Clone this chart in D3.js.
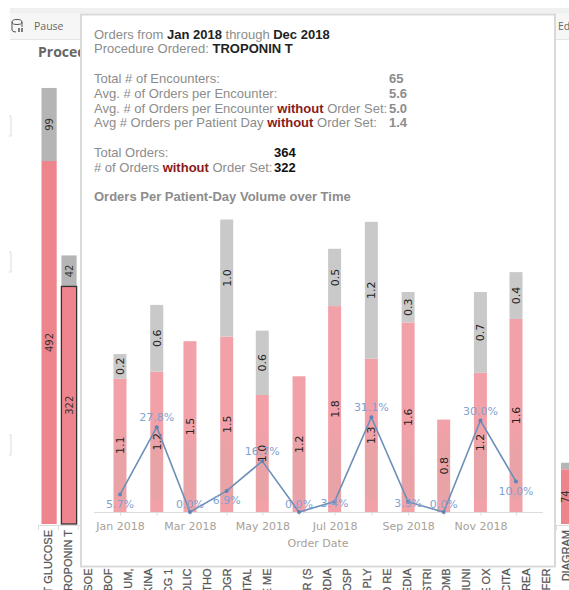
<!DOCTYPE html>
<html><head><meta charset="utf-8">
<script src="https://cdn.jsdelivr.net/npm/d3@7"></script>
<style>html,body{margin:0;padding:0;background:#fff;overflow:hidden}svg{display:block;font-family:"Liberation Sans",Arial,sans-serif}</style>
</head><body><svg id="c" width="569" height="590"></svg>
<script>
const months=["2018-01","2018-02","2018-03","2018-04","2018-05","2018-06","2018-07","2018-08","2018-09","2018-10","2018-11","2018-12"];
const withoutSet=[1.14,1.2,1.46,1.5,1.0,1.16,1.76,1.31,1.62,0.79,1.19,1.65];
const withSet=[0.21,0.57,0,1.0,0.55,0,0.49,1.17,0.26,0,0.69,0.4];
const pct=[5.7,27.8,0,6.9,16.7,0,3.4,31.1,3.3,0,30.0,10.0];
const tickMonths=["2018-01","2018-03","2018-05","2018-07","2018-09","2018-11"];
const procCats=["T GLUCOSE","TROPONIN T","ISOE","IBOF","UM,","KINA","CG 1","OLIC","THO","OGR","ITAL","E ME","","ER (S","RDIA","OSP","PLY","D RE","EDIA","STRI","OMB","IUNI","E OX","SCITA","TREA","FER","DIAGRAM"];
const bgRed={"T GLUCOSE":492,"TROPONIN T":322,"DIAGRAM":74};
const bgGray={"T GLUCOSE":99,"TROPONIN T":42,"DIAGRAM":9};

const svg=d3.select("#c");
const parse=d3.timeParse("%Y-%m");
const x=d3.scaleTime().domain([parse(months[0]),parse(months[11])]).range([120,516]);
const y=d3.scaleLinear().domain([0,2.5]).range([512,219.5]);
const yP=d3.scaleLinear().domain([0,40]).range([512,390]);
const bx=d3.scalePoint().domain(procCats).range([48,566]);
const by=d3.scaleLinear().domain([0,492]).range([524,161]);
const DV="DejaVu Sans";

// page chrome behind the tooltip
svg.append("rect").attr("x",10).attr("y",8).attr("width",559).attr("height",5).attr("fill","#f0f0f0");
svg.append("rect").attr("x",10).attr("y",13).attr("width",559).attr("height",27).attr("fill","#f6f6f6");
svg.append("line").attr("x1",10).attr("x2",569).attr("y1",39.5).attr("y2",39.5).attr("stroke","#e4e4e4");
const ic=svg.append("g").attr("fill","none").attr("stroke","#555").attr("stroke-width",1);
ic.append("path").attr("d","M12 22 a5 2.5 0 0 1 10 0 v5 M12 22 v8 q0 2 4 2 M12 22 a5 2.5 0 0 0 10 0");
ic.append("path").attr("d","M19 28v4M22 28v4").attr("stroke-width",1.5);
svg.append("text").attr("x",34).attr("y",30).attr("font-size",10.5).attr("font-family","Open Sans").attr("fill","#666").text("Pause");
svg.append("text").attr("x",558).attr("y",30).attr("font-size",10.5).attr("font-family","Open Sans").attr("fill","#666").text("Ed");
svg.append("text").attr("x",38).attr("y",57).attr("font-size",14).attr("font-weight","bold").attr("font-family","Open Sans").attr("fill","#666").text("Procedures");

// faint row-axis brackets at the far left
svg.append("g").selectAll("path").data([116,252,435]).join("path").attr("d",d=>`M9,${d}h2v20h-2`).attr("fill","none").attr("stroke","#dcdcdc");

// background procedure bars
const bg=svg.append("g");
const hasBar=procCats.filter(c=>bgRed[c]);
const bw=c=>c==="DIAGRAM"?[561,585]:[bx(c)-6.5,bx(c)+8.7];
bg.selectAll("rect.g").data(hasBar).join("rect")
 .attr("x",c=>bw(c)[0]).attr("width",c=>bw(c)[1]-bw(c)[0])
 .attr("y",c=>by(bgRed[c]+bgGray[c])).attr("height",c=>by(0)-by(bgGray[c])).attr("fill","#b5b5b5");
bg.selectAll("rect.r").data(hasBar).join("rect")
 .attr("x",c=>bw(c)[0]).attr("width",c=>bw(c)[1]-bw(c)[0])
 .attr("y",c=>by(bgRed[c])).attr("height",c=>by(0)-by(bgRed[c])).attr("fill","#ee848c")
 .attr("stroke",c=>c==="TROPONIN T"?"#333":"none").attr("stroke-width",1.3);
const rotTxt=(sel,tx,ty,size,fill,fam)=>sel.attr("transform",d=>`translate(${tx(d)},${ty(d)}) rotate(-90)`).attr("text-anchor","middle").attr("font-size",size).attr("fill",fill).attr("font-family",fam);
bg.selectAll("text.r").data(hasBar).join("text").text(c=>bgRed[c]).call(rotTxt,c=>Math.min(bx(c)+5,568.5),c=>(by(bgRed[c])+by(0))/2,10,"#333",DV);
bg.selectAll("text.g").data(hasBar.filter(c=>c!=="DIAGRAM")).join("text").text(c=>bgGray[c]).call(rotTxt,c=>bx(c)+5,c=>(by(bgRed[c])+by(bgRed[c]+bgGray[c]))/2,10,"#333",DV);
bg.append("line").attr("x1",39).attr("x2",569).attr("y1",525.5).attr("y2",525.5).attr("stroke","#ddd");
bg.selectAll("line.t").data(procCats).join("line").attr("x1",c=>bx(c)-9.5).attr("x2",c=>bx(c)-9.5).attr("y1",525).attr("y2",530).attr("stroke","#ddd");
svg.append("g").selectAll("text").data(procCats).join("text").text(c=>c)
 .attr("transform",(c,i)=>`translate(${bx(c)+4},${i<2||i===26?530:568.5}) rotate(-90)`).attr("text-anchor","end")
 .attr("font-size",11).attr("fill","#555").attr("stroke","#555").attr("stroke-width",0.25);

// tooltip
svg.append("rect").attr("x",81).attr("y",14.5).attr("width",474).attr("height",552).attr("fill","#fff").attr("stroke","#d9d9d9").attr("stroke-width",2);
const rows=[
 [94,38.5,[["Orders from ",0],["Jan 2018",1],[" through ",0],["Dec 2018",1]]],
 [94,53,[["Procedure Ordered: ",0],["TROPONIN T",1]]],
 [94,83,[["Total # of Encounters:",0]]],
 [94,98,[["Avg. # of Orders per Encounter:",0]]],
 [94,113,[["Avg. # of Orders per Encounter ",0],["without",2],[" Order Set:",0]]],
 [94,127,[["Avg # Orders per Patient Day ",0],["without",2],[" Order Set:",0]]],
 [94,157,[["Total Orders:",0]]],
 [94,172,[["# of Orders ",0],["without",2],[" Order Set:",0]]],
 [389,83,[["65",3]]],[389,98,[["5.6",3]]],[389,113,[["5.0",3]]],[389,127,[["1.4",3]]],
 [274,157,[["364",4]]],[274,172,[["322",4]]],
 [94,201,[["Orders Per Patient-Day Volume over Time",3]]]
];
const styles=[{f:"#8c8c8c",w:"normal"},{f:"#222",w:"bold"},{f:"#8b1a1a",w:"bold"},{f:"#8c8c8c",w:"bold"},{f:"#111",w:"bold"}];
const tt=svg.append("g").attr("font-size",13);
rows.forEach(r=>{const t=tt.append("text").attr("x",r[0]).attr("y",r[1]).attr("xml:space","preserve");
 r[2].forEach(s=>t.append("tspan").attr("fill",styles[s[1]].f).attr("font-weight",styles[s[1]].w).text(s[0]));});

// gradient
const grad=svg.append("defs").append("linearGradient").attr("id","rg").attr("gradientUnits","userSpaceOnUse").attr("x1",0).attr("x2",0).attr("y1",300).attr("y2",512);
[[0,"#f2a1a9"],[0.6,"#f2a1a9"],[0.72,"#e9a3a6"],[0.93,"#e9a3a6"],[0.95,"#f2a1a9"],[1,"#f2a1a9"]].forEach(s=>grad.append("stop").attr("offset",s[0]).attr("stop-color",s[1]));

// chart
const g=svg.append("g");
const data=months.map((m,i)=>({d:parse(m),a:withoutSet[i],b:withSet[i],p:pct[i]}));
const w=13;
g.selectAll("rect.red").data(data).join("rect").attr("x",d=>x(d.d)-w/2).attr("width",w)
 .attr("y",d=>y(d.a)).attr("height",d=>y(0)-y(d.a)).attr("fill","url(#rg)");
g.selectAll("rect.gray").data(data.filter(d=>d.b>0)).join("rect").attr("x",d=>x(d.d)-w/2).attr("width",w)
 .attr("y",d=>y(d.a+d.b)).attr("height",d=>y(0)-y(d.b)).attr("fill","#c9c9c9");
g.selectAll("text.red").data(data).join("text").text(d=>d.a.toFixed(1))
 .call(rotTxt,d=>x(d.d)+4,d=>(y(d.a)+y(0))/2,11,"#222",DV);
g.selectAll("text.gray").data(data.filter(d=>d.b>0)).join("text").text(d=>d.b.toFixed(1))
 .call(rotTxt,d=>x(d.d)+4,d=>(y(d.a)+y(d.a+d.b))/2,11,"#222",DV);

const ax=d3.axisBottom(x).tickValues(months.map(parse)).tickSize(3).tickFormat(d=>tickMonths.includes(d3.timeFormat("%Y-%m")(d))?d3.timeFormat("%b %Y")(d):"");
const axg=g.append("g").attr("transform","translate(0,512.5)").call(ax);
axg.select(".domain").attr("d","M94,0H543").attr("stroke","#dcdcdc");
axg.selectAll(".tick line").attr("stroke","#dcdcdc");
axg.selectAll(".tick text").attr("font-size",11).attr("font-family",DV).attr("fill","#a89f97").attr("y",0).attr("dy",17.5);
g.append("text").attr("x",318).attr("y",547).attr("text-anchor","middle").attr("font-size",11).attr("font-family",DV).attr("fill","#a89f97").text("Order Date");

const line=d3.line().x(d=>x(d.d)).y(d=>yP(d.p));
g.append("path").datum(data).attr("d",line).attr("fill","none").attr("stroke","#6c8fb8").attr("stroke-width",1.6);
g.selectAll("circle").data(data).join("circle").attr("cx",d=>x(d.d)).attr("cy",d=>yP(d.p)).attr("r",2).attr("fill","#5b85b5");
const lblOff=p=>p>10?-6:p>=5?13:p>0?5:-4.5;
g.selectAll("text.p").data(data).join("text").attr("x",d=>x(d.d)).attr("y",d=>yP(d.p)+lblOff(d.p))
 .attr("text-anchor","middle").attr("font-size",11).attr("font-family",DV).attr("fill","#7fa2d0").text(d=>d.p.toFixed(1)+"%");
</script></body></html>
